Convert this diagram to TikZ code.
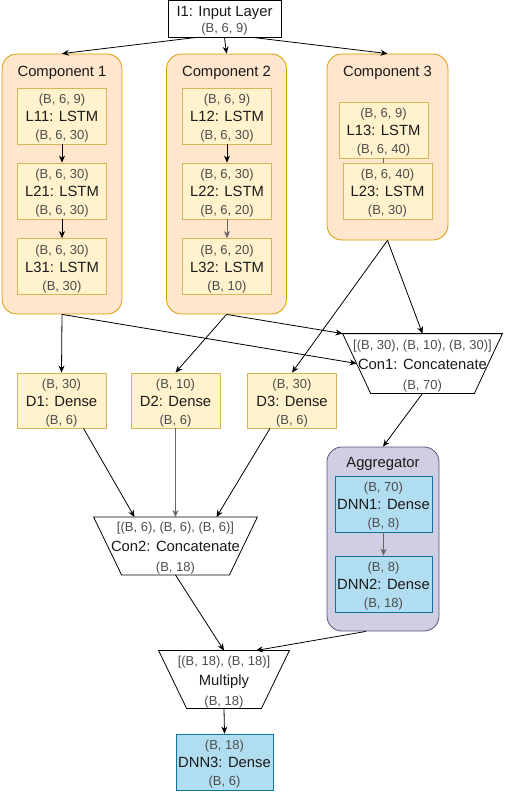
\documentclass[tikz,border=0pt]{standalone}
\usepackage{fontspec}
\setmainfont{Liberation Sans}
\usetikzlibrary{arrows.meta}
\definecolor{compfill}{HTML}{FFE6CC}
\definecolor{compline}{HTML}{D79B00}
\definecolor{lstmfill}{HTML}{FFF2CC}
\definecolor{lstmline}{HTML}{D6B656}
\definecolor{aggfill}{HTML}{D0CEE2}
\definecolor{aggline}{HTML}{56517E}
\definecolor{dnnfill}{HTML}{B1DDF0}
\definecolor{dnnline}{HTML}{10739E}
\definecolor{dimtext}{HTML}{4D4D4D}
\definecolor{nametext}{HTML}{1A1A1A}
\definecolor{greyline}{HTML}{666666}
\newcommand{\shp}[1]{{\fontsize{13}{18}\selectfont\color{dimtext}#1}}
\newcommand{\lay}[3]{\rule{0pt}{14.5pt}\shp{#1}\\#2\\\shp{#3}}
\begin{document}
\begin{tikzpicture}[x=1pt, y=-1pt, line width=0.8pt, >={Stealth[length=7pt,width=6pt]},
  every node/.style={font=\fontsize{14.8}{18}\selectfont, text=nametext, align=center},
  layer node/.style={rectangle,draw=lstmline,fill=lstmfill,minimum width=89pt,minimum height=56pt,inner sep=0pt},
  comp node/.style={rectangle,rounded corners=15pt,draw=compline,fill=compfill,minimum width=120pt,inner sep=0pt},
  dnn node/.style={rectangle,draw=dnnline,fill=dnnfill,minimum width=97pt,minimum height=56pt,inner sep=0pt},
  trap node/.style={rectangle,inner sep=0pt,font=\fontsize{14.8}{20}\selectfont}]
\useasboundingbox (0,0) rectangle (504,792);
\begin{scope}
\node[draw,fill=white,minimum width=113pt,minimum height=37pt,inner sep=0pt] (i1) at (224.5,18.5) {\rule{0pt}{15pt}I1: Input Layer\\[-2pt]\shp{(B, 6, 9)}};
% components
\node[comp node,minimum height=260pt] (c1) at (62,184) {};
\node[comp node,minimum height=260pt] (c2) at (226.5,184) {};
\node[comp node,minimum width=121pt,minimum height=186pt] (c3) at (387.5,147) {};
\node (c1t) at (62,73) {Component 1};
\node (c2t) at (226.5,73) {Component 2};
\node (c3t) at (387.5,73) {Component 3};
\node[layer node] (l11) at (62,116) {\lay{(B, 6, 9)}{L11: LSTM}{(B, 6, 30)}};
\node[layer node] (l21) at (62,191) {\lay{(B, 6, 30)}{L21: LSTM}{(B, 6, 30)}};
\node[layer node] (l31) at (62,266.5) {\lay{(B, 6, 30)}{L31: LSTM}{(B, 30)}};
\node[layer node] (l12) at (227,116) {\lay{(B, 6, 9)}{L12: LSTM}{(B, 6, 30)}};
\node[layer node] (l22) at (227,191) {\lay{(B, 6, 30)}{L22: LSTM}{(B, 6, 20)}};
\node[layer node] (l32) at (227,266.5) {\lay{(B, 6, 20)}{L32: LSTM}{(B, 10)}};
\node[layer node] (l13) at (383.5,130) {\lay{(B, 6, 9)}{L13: LSTM}{(B, 6, 40)}};
\node[layer node] (l23) at (387.5,191) {\lay{(B, 6, 40)}{L23: LSTM}{(B, 30)}};
% dense layers
\node[layer node,minimum height=55pt] (d1) at (61.5,400.5) {\lay{(B, 30)}{D1: Dense}{(B, 6)}};
\node[layer node,minimum height=55pt] (d2) at (175.5,400.5) {\lay{(B, 10)}{D2: Dense}{(B, 6)}};
\node[layer node,minimum height=55pt] (d3) at (292,400.5) {\lay{(B, 30)}{D3: Dense}{(B, 6)}};
% concatenate and multiply
\node[trap node,minimum width=159pt,minimum height=59pt] (con1) at (422.5,363.5) {\lay{[(B, 30), (B, 10), (B, 30)]}{Con1: Concatenate}{(B, 70)}};
\node[trap node,minimum width=163pt,minimum height=57pt] (con2) at (175.5,546) {\lay{[(B, 6), (B, 6), (B, 6)]}{Con2: Concatenate}{(B, 18)}};
\node[trap node,minimum width=130pt,minimum height=57pt] (mul) at (224,679.5) {\lay{[(B, 18), (B, 18)]}{Multiply}{(B, 18)}};
\draw (con1.north west) -- (con1.north east) -- ([xshift=-28pt]con1.south east) -- ([xshift=28pt]con1.south west) -- cycle;
\draw (con2.north west) -- (con2.north east) -- ([xshift=-28pt]con2.south east) -- ([xshift=28pt]con2.south west) -- cycle;
\draw (mul.north west) -- (mul.north east) -- ([xshift=-28pt]mul.south east) -- ([xshift=28pt]mul.south west) -- cycle;
% aggregator
\node[rectangle,rounded corners=15pt,draw=aggline,fill=aggfill,minimum width=112pt,minimum height=184pt] (agg) at (383,539) {};
\node (aggt) at (383,463.5) {Aggregator};
\node[dnn node] (dnn1) at (383.5,504) {\lay{(B, 70)}{DNN1: Dense}{(B, 8)}};
\node[dnn node] (dnn2) at (383.5,584) {\lay{(B, 8)}{DNN2: Dense}{(B, 18)}};
\node[dnn node] (dnn3) at (224.5,762) {\lay{(B, 18)}{DNN3: Dense}{(B, 6)}};
\end{scope}
\begin{scope}[every edge/.append style={->}]
\draw ([xshift=-28pt]i1.south) edge (c1.north);
\draw (i1.south) edge (c2.north);
\draw ([xshift=28pt]i1.south) edge (c3.north);
\draw (l11) edge (l21);
\draw (l21) edge (l31);
\draw (l12) edge (l22);
\draw[greyline] (l22) edge (l32);
\draw[greyline] (l13.south) edge[-] (l13.south |- l23.north);
\draw (c1.south) edge (d1.north);
\draw (c1.south) edge ([xshift=14pt]con1.west);
\draw (c2.south) edge (d2.north);
\draw (c2.south) edge (con1.north west);
\draw (c3.south) edge (d3.north);
\draw (c3.south) edge (con1.north);
\draw ([xshift=22pt]d1.south) edge ([xshift=-41pt]con2.north);
\draw[greyline] (d2.south) edge (con2.north);
\draw ([xshift=-22pt]d3.south) edge ([xshift=41pt]con2.north);
\draw (con1.south) edge (agg.north);
\draw[greyline] (dnn1) edge (dnn2);
\draw (con2.south) edge (mul.north);
\draw ([xshift=-17pt]agg.south) edge ([xshift=32pt]mul.north);
\draw (mul.south) edge (dnn3.north);
\end{scope}
\end{tikzpicture}
\end{document}
